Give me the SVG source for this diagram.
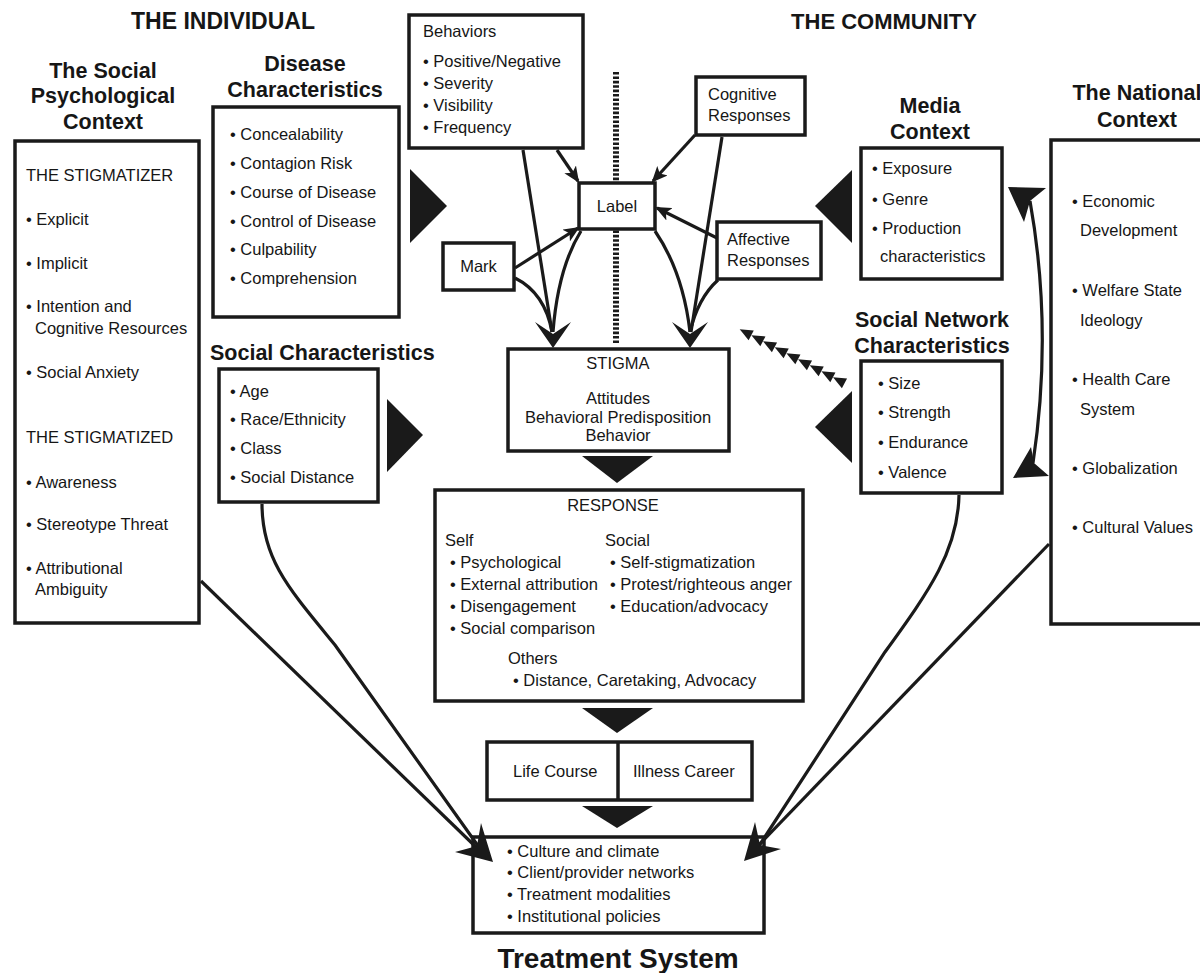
<svg xmlns="http://www.w3.org/2000/svg" width="1200" height="973" viewBox="0 0 1200 973">
<defs>
<style>
text{font-family:"Liberation Sans",Arial,sans-serif;fill:#161616}
.t{font-size:16.5px}
.c{text-anchor:middle}
.h{font-size:21.5px;font-weight:bold;text-anchor:middle}
.box{fill:#fff;stroke:#1a1a1a;stroke-width:3.5}
.ln{fill:none;stroke:#1a1a1a;stroke-width:3.2}
.ar{fill:#1a1a1a;stroke:none}
</style>
<marker id="sa" markerUnits="userSpaceOnUse" markerWidth="16" markerHeight="14" viewBox="0 0 16 14" refX="14" refY="7" orient="auto"><path d="M16,7 L0,0 L4,7 L0,14 Z" fill="#1a1a1a"/></marker>
<polygon id="tri" points="0,0 13,-5.5 13,5.5"/>
</defs>
<rect width="1200" height="973" fill="#fff"/>

<text class="h" x="223" y="29" style="font-size:23px">THE INDIVIDUAL</text>
<text class="h" x="884" y="29" style="font-size:22px">THE COMMUNITY</text>

<!-- dotted divider -->
<line x1="616" y1="72" x2="616" y2="343" stroke="#1a1a1a" stroke-width="6" stroke-dasharray="2.6 1.8"/>

<g id="social-psych">
  <text class="h" x="103" y="78">The Social</text>
  <text class="h" x="103" y="103">Psychological</text>
  <text class="h" x="103" y="129">Context</text>
  <rect class="box" x="15" y="141" width="184" height="482"/>
  <text class="t" x="26" y="181">THE STIGMATIZER</text>
  <text class="t" x="26" y="225">• Explicit</text>
  <text class="t" x="26" y="269">• Implicit</text>
  <text class="t" x="26" y="312">• Intention and</text>
  <text class="t" x="35" y="334">Cognitive Resources</text>
  <text class="t" x="26" y="378">• Social Anxiety</text>
  <text class="t" x="26" y="443">THE STIGMATIZED</text>
  <text class="t" x="26" y="488">• Awareness</text>
  <text class="t" x="26" y="530">• Stereotype Threat</text>
  <text class="t" x="26" y="574">• Attributional</text>
  <text class="t" x="35" y="595">Ambiguity</text>
</g>

<g id="disease">
  <text class="h" x="305" y="71">Disease</text>
  <text class="h" x="305" y="97">Characteristics</text>
  <rect class="box" x="213" y="107" width="186" height="210"/>
  <text class="t" x="230" y="140">• Concealability</text>
  <text class="t" x="230" y="169">• Contagion Risk</text>
  <text class="t" x="230" y="198">• Course of Disease</text>
  <text class="t" x="230" y="227">• Control of Disease</text>
  <text class="t" x="230" y="255">• Culpability</text>
  <text class="t" x="230" y="284">• Comprehension</text>
</g>

<g id="behaviors">
  <rect class="box" x="409" y="15" width="174" height="133"/>
  <text class="t" x="423" y="37">Behaviors</text>
  <text class="t" x="423" y="67">• Positive/Negative</text>
  <text class="t" x="423" y="89">• Severity</text>
  <text class="t" x="423" y="111">• Visibility</text>
  <text class="t" x="423" y="133">• Frequency</text>
</g>

<g id="cognitive">
  <rect class="box" x="696" y="77" width="109" height="58"/>
  <text class="t" x="708" y="100">Cognitive</text>
  <text class="t" x="708" y="121">Responses</text>
</g>

<g id="label">
  <rect class="box" x="579" y="183" width="76" height="46"/>
  <text class="t c" x="617" y="212">Label</text>
</g>

<g id="mark">
  <rect class="box" x="443" y="243" width="71" height="47"/>
  <text class="t c" x="478.5" y="272">Mark</text>
</g>

<g id="affective">
  <rect class="box" x="717" y="222" width="104" height="57"/>
  <text class="t" x="727" y="245">Affective</text>
  <text class="t" x="727" y="266">Responses</text>
</g>

<g id="media">
  <text class="h" x="930" y="113">Media</text>
  <text class="h" x="930" y="139">Context</text>
  <rect class="box" x="861" y="148" width="141" height="131"/>
  <text class="t" x="872" y="174">• Exposure</text>
  <text class="t" x="872" y="205">• Genre</text>
  <text class="t" x="872" y="234">• Production</text>
  <text class="t" x="880" y="262">characteristics</text>
</g>

<g id="national">
  <text class="h" x="1137" y="100">The National</text>
  <text class="h" x="1137" y="127">Context</text>
  <rect class="box" x="1051" y="140" width="165" height="484"/>
  <text class="t" x="1072" y="207">• Economic</text>
  <text class="t" x="1080" y="236">Development</text>
  <text class="t" x="1072" y="296">• Welfare State</text>
  <text class="t" x="1080" y="326">Ideology</text>
  <text class="t" x="1072" y="385">• Health Care</text>
  <text class="t" x="1080" y="415">System</text>
  <text class="t" x="1072" y="474">• Globalization</text>
  <text class="t" x="1072" y="533">• Cultural Values</text>
</g>

<g id="social-chars">
  <text x="210" y="360" style="font-size:21.5px;font-weight:bold">Social Characteristics</text>
  <rect class="box" x="219" y="369" width="159" height="133"/>
  <text class="t" x="230" y="397">• Age</text>
  <text class="t" x="230" y="425">• Race/Ethnicity</text>
  <text class="t" x="230" y="454">• Class</text>
  <text class="t" x="230" y="483">• Social Distance</text>
</g>

<g id="social-network">
  <text class="h" x="932" y="327">Social Network</text>
  <text class="h" x="932" y="353">Characteristics</text>
  <rect class="box" x="861" y="361" width="141" height="132"/>
  <text class="t" x="878" y="389">• Size</text>
  <text class="t" x="878" y="418">• Strength</text>
  <text class="t" x="878" y="448">• Endurance</text>
  <text class="t" x="878" y="478">• Valence</text>
</g>

<g id="stigma">
  <rect class="box" x="508" y="349" width="221" height="102"/>
  <text class="t c" x="618" y="369">STIGMA</text>
  <text class="t c" x="618" y="404">Attitudes</text>
  <text class="t c" x="618" y="423">Behavioral Predisposition</text>
  <text class="t c" x="618" y="441">Behavior</text>
</g>

<g id="response">
  <rect class="box" x="435" y="490" width="368" height="211"/>
  <text class="t c" x="613" y="511">RESPONSE</text>
  <text class="t" x="445" y="546">Self</text>
  <text class="t" x="605" y="546">Social</text>
  <text class="t" x="450" y="568">• Psychological</text>
  <text class="t" x="450" y="590">• External attribution</text>
  <text class="t" x="450" y="612">• Disengagement</text>
  <text class="t" x="450" y="634">• Social comparison</text>
  <text class="t" x="610" y="568">• Self-stigmatization</text>
  <text class="t" x="610" y="590">• Protest/righteous anger</text>
  <text class="t" x="610" y="612">• Education/advocacy</text>
  <text class="t" x="508" y="664">Others</text>
  <text class="t" x="513" y="686">• Distance, Caretaking, Advocacy</text>
</g>

<g id="life-illness">
  <rect class="box" x="487" y="742" width="265" height="58"/>
  <line x1="618" y1="742" x2="618" y2="800" stroke="#1a1a1a" stroke-width="3.5"/>
  <text class="t" x="513" y="777">Life Course</text>
  <text class="t" x="633" y="777">Illness Career</text>
</g>

<g id="treatment">
  <rect class="box" x="473" y="837" width="291" height="96"/>
  <text class="t" x="507" y="857">• Culture and climate</text>
  <text class="t" x="507" y="878">• Client/provider networks</text>
  <text class="t" x="507" y="900">• Treatment modalities</text>
  <text class="t" x="507" y="922">• Institutional policies</text>
  <text class="h" x="618" y="968" style="font-size:28px">Treatment System</text>
</g>

<g id="connectors">
  <!-- small arrows into Label -->
  <path class="ln" d="M557,150 L578,181" marker-end="url(#sa)"/>
  <path class="ln" d="M695,135 L653,181" marker-end="url(#sa)"/>
  <path class="ln" d="M717,238 L657,208" marker-end="url(#sa)"/>
  <path class="ln" d="M515,268 L578,228" marker-end="url(#sa)"/>
  <!-- heavy lines into STIGMA -->
  <path class="ln" d="M523,150 L552,332"/>
  <path class="ln" d="M515,278 Q545,293 552,332"/>
  <path class="ln" d="M581,231 Q558,268 553,332"/>
  <path class="ln" d="M655,231 Q683,272 690,332"/>
  <path class="ln" d="M722,137 L691,332"/>
  <path class="ln" d="M718,280 Q698,298 690,332"/>
  <polygon class="ar" points="553,348 535,322 553,334 571,322"/>
  <polygon class="ar" points="690,348 672,322 690,334 708,322"/>
  <!-- lines into Treatment System -->
  <path class="ln" d="M201,581 L478,849"/>
  <path class="ln" d="M262,504 C262,560 290,590 335,645 L481,850"/>
  <path class="ln" d="M1049,544 L755,849"/>
  <path class="ln" d="M959,495 C958,550 930,590 885,652 L757,849"/>
  <polygon class="ar" points="493,862 455,852 477,846 481,823"/>
  <polygon class="ar" points="744,861 781,849 760,845 755,822"/>
  <!-- double arrow Media <-> Social network -->
  <path class="ln" d="M1030,201 Q1053,330 1033,463"/>
  <polygon class="ar" points="1008,187 1046,188 1030,201 1024,222"/>
  <polygon class="ar" points="1013,478 1031,447 1034,463 1049,476"/>
  <!-- dotted chain of small triangles -->
  <g class="ar">
    <use href="#tri" transform="translate(745,332) rotate(28) translate(-6,0)"/>
    <use href="#tri" transform="translate(756.7,338) rotate(28) translate(-6,0)"/>
    <use href="#tri" transform="translate(768.3,344) rotate(28) translate(-6,0)"/>
    <use href="#tri" transform="translate(780,350) rotate(28) translate(-6,0)"/>
    <use href="#tri" transform="translate(791.7,356) rotate(28) translate(-6,0)"/>
    <use href="#tri" transform="translate(803.3,362) rotate(28) translate(-6,0)"/>
    <use href="#tri" transform="translate(815,368) rotate(28) translate(-6,0)"/>
    <use href="#tri" transform="translate(826.7,374) rotate(28) translate(-6,0)"/>
    <use href="#tri" transform="translate(838.3,380) rotate(28) translate(-6,0)"/>
  </g>
  <!-- big black triangles -->
  <polygon class="ar" points="410,169 447,206 410,243"/>
  <polygon class="ar" points="852,170 815,206 852,243"/>
  <polygon class="ar" points="387,399 423,435 387,472"/>
  <polygon class="ar" points="852,391 815,427 852,463"/>
  <polygon class="ar" points="582,456 653,456 617,483"/>
  <polygon class="ar" points="582,708 653,708 617,733"/>
  <polygon class="ar" points="582,806 653,806 617,828"/>
</g>
</svg>
